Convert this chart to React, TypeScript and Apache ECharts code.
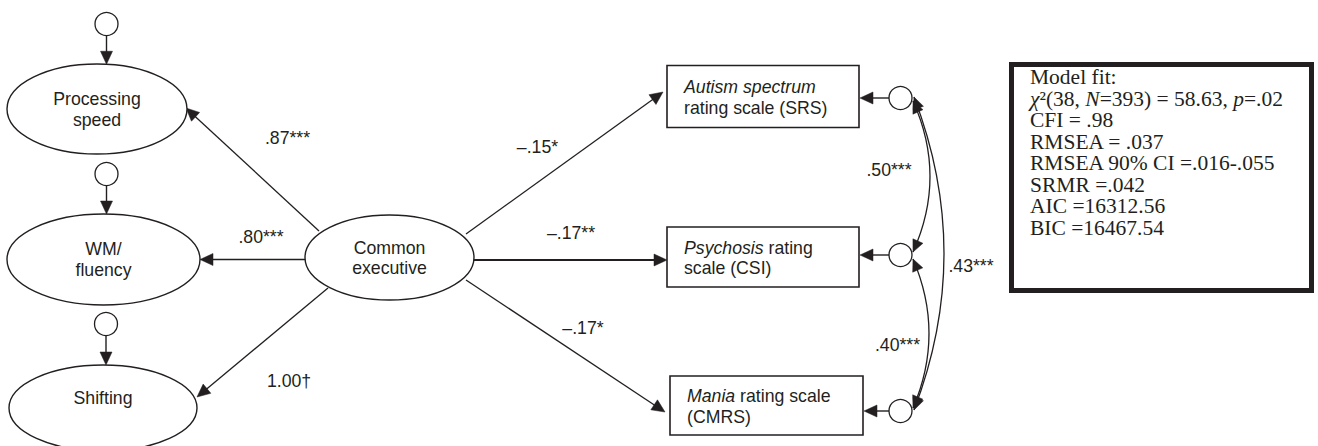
import React, { useEffect, useRef } from "react";
import * as echarts from "echarts";

// ---------------- content (values / texts) ----------------
const LATENT_LABELS = ["Processing\nspeed", "WM/\nfluency", "Shifting", "Common\nexecutive"];
const OBSERVED_LABELS = [
  "{i|Autism spectrum}\nrating scale (SRS)",
  "{i|Psychosis} rating\nscale (CSI)",
  "{i|Mania} rating scale\n(CMRS)",
];
const LOADINGS = [".87***", ".80***", "1.00\u2020"];
const REGRESSIONS = ["\u2013.15*", "\u2013.17**", "\u2013.17*"];
const CORRELATIONS = [".50***", ".40***", ".43***"];
const FIT_LINES = [
  "Model fit:",
  "{gi|\u03c7}\u00b2(38, {i|N}=393) = 58.63, {i|p}=.02",
  "CFI = .98",
  "RMSEA = .037",
  "RMSEA 90% CI =.016-.055",
  "SRMR =.042",
  "AIC =16312.56",
  "BIC =16467.54",
];

// ---------------- layout (diagram space, mapped by hidden axes) ----------------
// latent ellipses: cx, cy, rx, ry, labelY
const LATENT_LAYOUT = [
  [97, 109, 90, 45, 109.5],
  [103.5, 259.5, 96.5, 45.5, 259.5],
  [103, 408, 94, 43, 398],
  [389.5, 257.5, 84.5, 42.5, 258],
];
// observed boxes: x, y, w, h
const OBSERVED_LAYOUT = [
  [667, 65.5, 192, 62],
  [667, 227, 192, 60],
  [670, 376, 193, 59],
];
// residual circles left: cx, cy, r, latent index
const LEFT_RES_LAYOUT = [
  [106.5, 24, 11.5, 0],
  [106.5, 174, 11.5, 1],
  [106, 324, 11.5, 2],
];
// residual circles right: cx, cy, r, observed index
const RIGHT_RES_LAYOUT = [
  [900.5, 98, 11.5, 0],
  [900.5, 255, 11.5, 1],
  [900.5, 411, 11.5, 2],
];
// structural paths: x1, y1, x2(tip), y2(tip), labelX, labelY, lineWidth
const PATH_LAYOUT = [
  [319, 231, 186, 108, 287.5, 138, 1.3],
  [305, 259.5, 200, 259.5, 261, 237, 1.3],
  [328, 288, 197, 397, 289, 381, 1.3],
  [466, 234, 663, 92, 537.5, 147, 1.3],
  [474, 260, 667, 260, 571, 233, 2],
  [466, 280, 665, 412, 583, 328, 1.3],
];
// correlations: x1, y1, x2, y2, cpx, cpy, labelX, labelY
const CORR_LAYOUT = [
  [913, 101, 913, 252, 947, 176.5, 889, 170],
  [913, 259, 913, 408, 945, 333.5, 897.5, 345],
  [914, 97, 914, 410, 974, 253.5, 971, 266],
];
// fit box: x, y, w, h, textX, textCenterY
const FIT_LAYOUT = [[1011.5, 64.5, 300, 226, 1030, 152.5]];

const INK = "#231f20";
const SANS = "'Liberation Sans', Arial, Helvetica, sans-serif";
const SERIF = "'Liberation Serif', 'Times New Roman', serif";
const FS = 17.7;
const FIT_FS = 21.5;

function head(tip: number[], ux: number, uy: number, hl = 12, hw = 5) {
  const bx = tip[0] - ux * hl;
  const by = tip[1] - uy * hl;
  return {
    type: "polygon",
    shape: { points: [[tip[0], tip[1]], [bx - uy * hw, by + ux * hw], [bx + uy * hw, by - ux * hw]] },
    style: { fill: INK, stroke: INK, lineWidth: 0.5 },
  };
}

function arrow(p1: number[], p2: number[], lw = 1.3) {
  const dx = p2[0] - p1[0];
  const dy = p2[1] - p1[1];
  const L = Math.hypot(dx, dy) || 1;
  const ux = dx / L;
  const uy = dy / L;
  const hl = 13;
  return [
    {
      type: "line",
      shape: { x1: p1[0], y1: p1[1], x2: p2[0] - ux * (hl - 2), y2: p2[1] - uy * (hl - 2) },
      style: { stroke: INK, lineWidth: lw },
    },
    head(p2, ux, uy, hl, 6),
  ];
}

function txt(x: number, y: number, text: string, extra: any = {}) {
  return {
    type: "text",
    x,
    y,
    style: {
      text,
      fill: INK,
      fontFamily: SANS,
      fontSize: FS,
      lineHeight: 20.5,
      align: "center",
      textAlign: "center",
      verticalAlign: "middle",
      textVerticalAlign: "middle",
      ...extra,
    },
  };
}

export default function App() {
  const ref = useRef<HTMLDivElement>(null);

  useEffect(() => {
    if (!ref.current) return;
    const chart = echarts.init(ref.current, null, { renderer: "svg" });

    const option: any = {
      animation: false,
      backgroundColor: "#ffffff",
      grid: { left: 0, right: 0, top: 0, bottom: 0 },
      xAxis: { type: "value", min: 0, max: 1318, show: false },
      yAxis: { type: "value", min: 0, max: 446, inverse: true, show: false },
      series: [
        // structural paths (drawn first so nodes sit above)
        {
          type: "custom",
          coordinateSystem: "cartesian2d",
          data: PATH_LAYOUT,
          renderItem: (params: any, api: any) => {
            const i = params.dataIndex;
            const p1 = api.coord([api.value(0), api.value(1)]);
            const p2 = api.coord([api.value(2), api.value(3)]);
            const l = api.coord([api.value(4), api.value(5)]);
            const labels = LOADINGS.concat(REGRESSIONS);
            return {
              type: "group",
              children: [...arrow(p1, p2, api.value(6)), txt(l[0], l[1], labels[i])],
            };
          },
        },
        // latent ellipses
        {
          type: "custom",
          coordinateSystem: "cartesian2d",
          data: LATENT_LAYOUT,
          renderItem: (params: any, api: any) => {
            const i = params.dataIndex;
            const c = api.coord([api.value(0), api.value(1)]);
            const s = api.size([api.value(2), api.value(3)]);
            const t = api.coord([api.value(0), api.value(4)]);
            return {
              type: "group",
              children: [
                {
                  type: "ellipse",
                  shape: { cx: c[0], cy: c[1], rx: s[0], ry: s[1] },
                  style: { fill: "#ffffff", stroke: INK, lineWidth: 1.4 },
                },
                txt(t[0], t[1], LATENT_LABELS[i]),
              ],
            };
          },
        },
        // observed boxes
        {
          type: "custom",
          coordinateSystem: "cartesian2d",
          data: OBSERVED_LAYOUT,
          renderItem: (params: any, api: any) => {
            const i = params.dataIndex;
            const p = api.coord([api.value(0), api.value(1)]);
            const s = api.size([api.value(2), api.value(3)]);
            return {
              type: "group",
              children: [
                {
                  type: "rect",
                  shape: { x: p[0], y: p[1], width: s[0], height: s[1] },
                  style: { fill: "#ffffff", stroke: INK, lineWidth: 1.6 },
                },
                txt(p[0] + 17, p[1] + s[1] / 2 + 1, OBSERVED_LABELS[i], {
                  align: "left",
                  textAlign: "left",
                  lineHeight: 20.5,
                  rich: {
                    i: { fontStyle: "italic", fontFamily: SANS, fontSize: FS, fill: INK, lineHeight: 20.5 },
                  },
                }),
              ],
            };
          },
        },
        // left residuals
        {
          type: "custom",
          coordinateSystem: "cartesian2d",
          data: LEFT_RES_LAYOUT,
          renderItem: (params: any, api: any) => {
            const cx = api.value(0);
            const cy = api.value(1);
            const r = api.value(2);
            const e = LATENT_LAYOUT[api.value(3)];
            const k = (cx - e[0]) / e[2];
            const ty = e[1] - e[3] * Math.sqrt(Math.max(0, 1 - k * k));
            const c = api.coord([cx, cy]);
            const rr = api.size([r, r]);
            const from = api.coord([cx, cy + r]);
            const to = api.coord([cx, ty]);
            return {
              type: "group",
              children: [
                ...arrow(from, to, 1.4),
                {
                  type: "circle",
                  shape: { cx: c[0], cy: c[1], r: rr[0] },
                  style: { fill: "#ffffff", stroke: INK, lineWidth: 1.3 },
                },
              ],
            };
          },
        },
        // right residuals
        {
          type: "custom",
          coordinateSystem: "cartesian2d",
          data: RIGHT_RES_LAYOUT,
          renderItem: (params: any, api: any) => {
            const cx = api.value(0);
            const cy = api.value(1);
            const r = api.value(2);
            const b = OBSERVED_LAYOUT[api.value(3)];
            const c = api.coord([cx, cy]);
            const rr = api.size([r, r]);
            const from = api.coord([cx - r, cy]);
            const to = api.coord([b[0] + b[2] + 1, cy]);
            return {
              type: "group",
              children: [
                ...arrow(from, to, 1.4),
                {
                  type: "circle",
                  shape: { cx: c[0], cy: c[1], r: rr[0] },
                  style: { fill: "#ffffff", stroke: INK, lineWidth: 1.3 },
                },
              ],
            };
          },
        },
        // correlations (curved, double headed)
        {
          type: "custom",
          coordinateSystem: "cartesian2d",
          data: CORR_LAYOUT,
          renderItem: (params: any, api: any) => {
            const i = params.dataIndex;
            const a = api.coord([api.value(0), api.value(1)]);
            const b = api.coord([api.value(2), api.value(3)]);
            const cp = api.coord([api.value(4), api.value(5)]);
            const l = api.coord([api.value(6), api.value(7)]);
            const d1x = a[0] - cp[0];
            const d1y = a[1] - cp[1];
            const L1 = Math.hypot(d1x, d1y) || 1;
            const d2x = b[0] - cp[0];
            const d2y = b[1] - cp[1];
            const L2 = Math.hypot(d2x, d2y) || 1;
            return {
              type: "group",
              children: [
                {
                  type: "bezierCurve",
                  shape: { x1: a[0], y1: a[1], x2: b[0], y2: b[1], cpx1: cp[0], cpy1: cp[1] },
                  style: { stroke: INK, lineWidth: 1.3, fill: "none" },
                },
                head(a, d1x / L1, d1y / L1, 12, 5.5),
                head(b, d2x / L2, d2y / L2, 12, 5.5),
                txt(l[0], l[1], CORRELATIONS[i]),
              ],
            };
          },
        },
        // model fit box
        {
          type: "custom",
          coordinateSystem: "cartesian2d",
          data: FIT_LAYOUT,
          renderItem: (params: any, api: any) => {
            const p = api.coord([api.value(0), api.value(1)]);
            const s = api.size([api.value(2), api.value(3)]);
            const t = api.coord([api.value(4), api.value(5)]);
            const rich = {
              i: { fontStyle: "italic", fontFamily: SERIF, fontSize: FIT_FS, fill: INK, lineHeight: FIT_FS },
              gi: { fontStyle: "italic", fontFamily: SERIF, fontSize: FIT_FS, fill: INK, lineHeight: FIT_FS },
            };
            return {
              type: "group",
              children: [
                {
                  type: "rect",
                  shape: { x: p[0], y: p[1], width: s[0], height: s[1] },
                  style: { fill: "#ffffff", stroke: INK, lineWidth: 5 },
                },
                txt(t[0], t[1], FIT_LINES.join("\n"), {
                  fontFamily: SERIF,
                  fontSize: FIT_FS,
                  lineHeight: FIT_FS,
                  align: "left",
                  textAlign: "left",
                  rich,
                }),
              ],
            };
          },
        },
      ],
    };

    chart.setOption(option);
    return () => chart.dispose();
  }, []);

  return (
    <div
      ref={ref}
      style={{ position: "absolute", left: 0, top: 0, width: 1318, height: 446, background: "#ffffff" }}
    />
  );
}
